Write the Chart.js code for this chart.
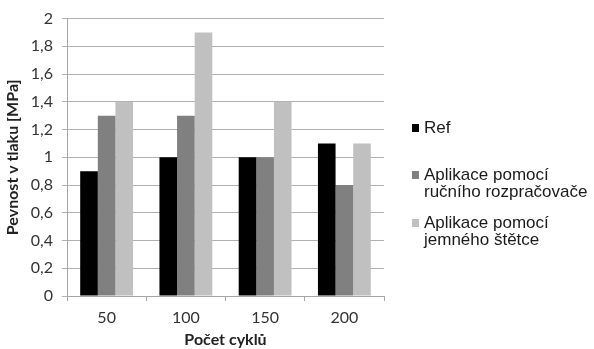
<!DOCTYPE html>
<html>
<head>
<meta charset="utf-8">
<script src="https://cdn.jsdelivr.net/npm/chart.js@4"></script>
<style>
  html, body { margin: 0; padding: 0; background: #fff; }
  #wrap { width: 594px; height: 349px; position: relative; }
</style>
</head>
<body>
<div id="wrap"><canvas id="graphCanvas"></canvas></div>
<script>
// data
const cycles = ["50", "100", "150", "200"];
const refValues = [0.9, 1.0, 1.0, 1.1];
const sprayValues = [1.3, 1.3, 1.0, 0.8];
const brushValues = [1.4, 1.9, 1.4, 1.1];
const seriesLabels = [
  ["Ref"],
  ["Aplikace pomocí", "ručního rozpračovače"],
  ["Aplikace pomocí", "jemného štětce"],
];

// legend on the right, multi-line labels
const sideLegend = {
  id: "sideLegend",
  afterDraw(chart) {
    const ctx = chart.ctx;
    const rowsY = [128, 175, 223];
    ctx.save();
    ctx.font = '17px "Liberation Sans", Arial, sans-serif';
    ctx.textBaseline = "middle";
    chart.data.datasets.forEach((ds, i) => {
      const y = rowsY[i];
      ctx.fillStyle = ds.backgroundColor;
      ctx.fillRect(412, y - 4, 7, 8);
      ctx.fillStyle = "#1a1a1a";
      ds.lines.forEach((line, j) => {
        ctx.fillText(line, 424, y + j * 17);
      });
    });
    ctx.restore();
  },
};

const fmt = (v) => String(Math.round(v * 10) / 10).replace(".", ",");

const ctx = document.getElementById("graphCanvas").getContext("2d");
const graphChart = new Chart(ctx, {
  type: "bar",
  data: {
    labels: cycles,
    datasets: [
      { label: seriesLabels[0].join(" "), lines: seriesLabels[0], data: refValues, backgroundColor: "#000000" },
      { label: seriesLabels[1].join(" "), lines: seriesLabels[1], data: sprayValues, backgroundColor: "#808080" },
      { label: seriesLabels[2].join(" "), lines: seriesLabels[2], data: brushValues, backgroundColor: "#c0c0c0" },
    ],
  },
  options: {
    responsive: true,
    maintainAspectRatio: false,
    animation: false,
    layout: { padding: { left: 0, right: 210, top: 18, bottom: 0 } },
    datasets: {
      bar: { categoryPercentage: 0.667, barPercentage: 1.0, borderWidth: 0 },
    },
    plugins: {
      legend: { display: false },
      tooltip: { enabled: false },
    },
    scales: {
      x: {
        afterFit: (scale) => { scale.height = 53; },
        grid: { display: true, drawOnChartArea: false, drawTicks: true, tickLength: 5, color: "#a6a6a6" },
        border: { color: "#a6a6a6" },
        ticks: { color: "#333", font: { family: "Lato, sans-serif", size: 16 }, padding: 7 },
        title: {
          display: true,
          text: "Počet cyklů",
          color: "#222",
          font: { family: "Lato, sans-serif", size: 16, weight: "bold" },
          padding: { top: 0, bottom: 0 },
        },
      },
      y: {
        min: 0,
        max: 2,
        afterFit: (scale) => { scale.width = 67; },
        grid: { color: "#b0b0b0", tickLength: 5 },
        border: { color: "#a6a6a6" },
        ticks: {
          stepSize: 0.2,
          color: "#333",
          padding: 9,
          font: { family: "Lato, sans-serif", size: 16 },
          callback: (v) => fmt(v),
        },
        title: {
          display: true,
          text: "Pevnost v tlaku [MPa]",
          color: "#222",
          font: { family: "Lato, sans-serif", size: 16, weight: "bold" },
          padding: { top: 3, bottom: 0 },
        },
      },
    },
  },
  plugins: [sideLegend],
});
</script>
</body>
</html>
